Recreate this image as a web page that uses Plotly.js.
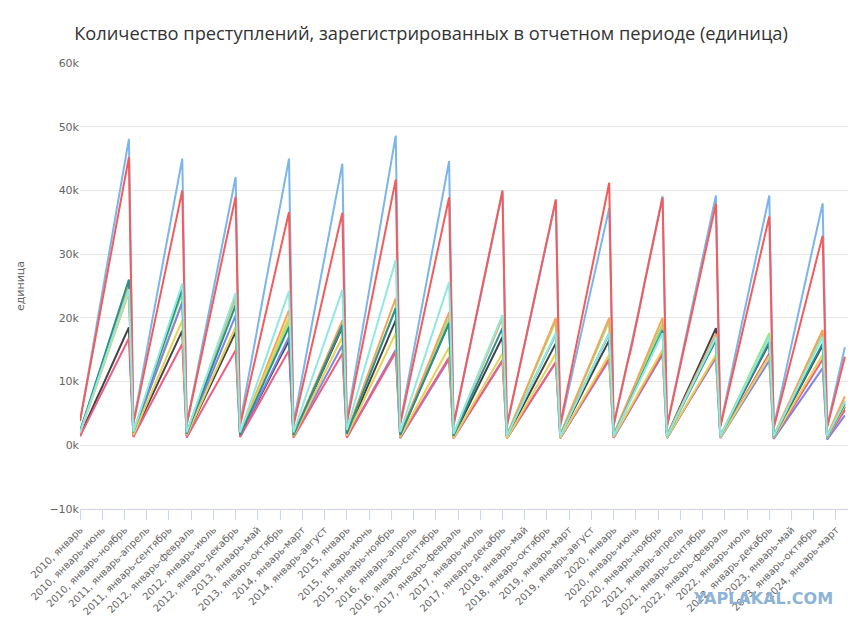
<!DOCTYPE html>
<html>
<head>
<meta charset="utf-8">
<script src="https://cdn.plot.ly/plotly-3.0.1.min.js"></script>
<style>
  html, body { margin: 0; padding: 0; background: #fff; }
  #plot-container { width: 862px; height: 628px; }
</style>
</head>
<body>
<div id="plot-container"></div>
<script>
// месяцы и годы для подписей периода (нарастающим итогом с начала года)
var months = ['январь', 'февраль', 'март', 'апрель', 'май', 'июнь', 'июль', 'август', 'сентябрь', 'октябрь', 'ноябрь', 'декабрь'];
var years = [2010, 2011, 2012, 2013, 2014, 2015, 2016, 2017, 2018, 2019, 2020, 2021, 2022, 2023, 2024];

// значения в тысячах, по одной строке на год
var s1 = [
  3.8, 7.6, 11.7, 15.8, 19.9, 24.0, 28.1, 32.1, 36.1, 40.1, 44.0, 48.1,
  3.5, 7.1, 11.0, 14.8, 18.7, 22.5, 26.3, 30.0, 33.8, 37.6, 41.3, 45.0,
  3.3, 6.8, 10.4, 14.0, 17.5, 21.1, 24.6, 28.1, 31.6, 35.1, 38.6, 42.1,
  3.5, 7.2, 11.1, 14.9, 18.8, 22.6, 26.4, 30.1, 33.8, 37.5, 41.2, 45.0,
  3.4, 7.0, 10.8, 14.6, 18.4, 22.1, 25.8, 29.5, 33.1, 36.8, 40.5, 44.2,
  3.8, 7.8, 12.1, 16.3, 20.4, 24.4, 28.4, 32.4, 36.4, 40.5, 44.5, 48.6,
  3.5, 7.2, 11.0, 14.8, 18.6, 22.3, 26.0, 29.7, 33.4, 37.1, 40.8, 44.6,
  3.1, 6.4, 9.8, 13.2, 16.6, 19.9, 23.2, 26.5, 29.8, 33.1, 36.4, 39.8,
  3.0, 6.2, 9.5, 12.8, 16.0, 19.2, 22.4, 25.6, 28.8, 32.0, 35.2, 38.4,
  2.9, 6.0, 9.2, 12.4, 15.5, 18.6, 21.7, 24.8, 27.9, 31.0, 34.1, 37.2,
  3.1, 6.3, 9.6, 12.7, 15.6, 18.8, 22.3, 25.8, 29.2, 32.6, 35.9, 39.1,
  3.0, 6.2, 9.6, 13.0, 16.3, 19.6, 22.9, 26.2, 29.5, 32.8, 36.0, 39.2,
  3.1, 6.3, 9.7, 13.1, 16.4, 19.7, 23.0, 26.2, 29.4, 32.7, 36.0, 39.2,
  2.9, 6.0, 9.3, 12.6, 15.8, 19.0, 22.2, 25.4, 28.6, 31.8, 34.9, 38.0,
  3.0, 6.1, 9.3, 12.4, 15.4
];
var s2 = [
  1.5, 3.1, 4.6, 6.2, 7.7, 9.2, 10.8, 12.3, 13.9, 15.4, 17.0, 18.5,
  1.5, 3.0, 4.5, 6.0, 7.5, 9.0, 10.5, 12.0, 13.5, 15.0, 16.5, 18.0,
  1.5, 3.0, 4.4, 5.9, 7.4, 8.9, 10.4, 11.9, 13.4, 14.8, 16.3, 17.8,
  1.4, 2.8, 4.1, 5.5, 6.9, 8.3, 9.6, 11.0, 12.4, 13.8, 15.1, 16.5,
  1.5, 3.1, 4.6, 6.2, 7.7, 9.2, 10.8, 12.3, 13.9, 15.4, 17.0, 18.5,
  1.6, 3.3, 4.9, 6.5, 8.2, 9.8, 11.4, 13.1, 14.7, 16.3, 18.0, 19.6,
  1.6, 3.2, 4.8, 6.4, 8.0, 9.6, 11.2, 12.8, 14.4, 16.0, 17.6, 19.2,
  1.4, 2.8, 4.3, 5.7, 7.1, 8.5, 9.9, 11.3, 12.8, 14.2, 15.6, 17.0,
  1.3, 2.7, 4.0, 5.3, 6.7, 8.0, 9.3, 10.7, 12.0, 13.3, 14.7, 16.0,
  1.4, 2.8, 4.1, 5.5, 6.9, 8.3, 9.6, 11.0, 12.4, 13.8, 15.1, 16.5,
  1.5, 3.1, 4.7, 6.2, 7.8, 9.4, 11.0, 12.6, 14.2, 15.7, 17.3, 18.9,
  1.5, 3.1, 4.6, 6.1, 7.7, 9.2, 10.7, 12.3, 13.8, 15.3, 16.9, 18.4,
  1.3, 2.7, 4.0, 5.3, 6.7, 8.0, 9.3, 10.7, 12.0, 13.3, 14.7, 16.0,
  1.3, 2.6, 3.9, 5.2, 6.5, 7.9, 9.2, 10.5, 11.8, 13.1, 14.4, 15.7,
  1.2, 2.4, 3.6, 4.8, 6.0
];
var s3 = [
  2.1, 4.3, 6.4, 8.5, 10.6, 12.8, 14.9, 17.0, 19.1, 21.3, 23.4, 25.5,
  1.9, 3.9, 6.0, 8.0, 10.0, 12.1, 14.1, 16.1, 18.1, 20.1, 22.0, 24.0,
  1.9, 3.8, 5.8, 7.7, 9.6, 11.5, 13.4, 15.3, 17.3, 19.2, 21.1, 23.0,
  1.6, 3.3, 4.9, 6.5, 8.1, 9.8, 11.4, 13.0, 14.6, 16.3, 17.9, 19.5,
  1.6, 3.2, 4.7, 6.3, 7.9, 9.5, 11.0, 12.6, 14.2, 15.8, 17.3, 18.9,
  1.8, 3.6, 5.4, 7.2, 9.0, 10.9, 12.7, 14.5, 16.3, 18.1, 19.9, 21.7,
  1.7, 3.3, 5.0, 6.7, 8.3, 10.0, 11.7, 13.3, 15.0, 16.7, 18.3, 20.0,
  1.7, 3.4, 5.1, 6.8, 8.5, 10.2, 11.9, 13.6, 15.3, 17.0, 18.7, 20.4,
  1.6, 3.3, 4.9, 6.5, 8.1, 9.8, 11.4, 13.0, 14.6, 16.3, 17.9, 19.5,
  1.6, 3.2, 4.9, 6.5, 8.2, 9.8, 11.4, 13.0, 14.6, 16.2, 17.9, 19.5,
  1.6, 3.2, 4.8, 6.3, 7.8, 9.4, 11.0, 12.6, 14.2, 15.8, 17.4, 19.0,
  1.4, 2.9, 4.3, 5.8, 7.2, 8.7, 10.1, 11.5, 13.0, 14.4, 15.9, 17.3,
  1.5, 2.9, 4.4, 5.9, 7.3, 8.8, 10.3, 11.7, 13.2, 14.7, 16.1, 17.6,
  1.4, 2.9, 4.4, 5.9, 7.3, 8.8, 10.3, 11.8, 13.2, 14.7, 16.1, 17.6,
  1.4, 2.8, 4.2, 5.6, 7.0
];
var s4 = [
  2.1, 4.2, 6.3, 8.3, 10.4, 12.5, 14.6, 16.7, 18.8, 20.8, 22.9, 25.0,
  1.9, 3.8, 5.6, 7.5, 9.4, 11.3, 13.1, 15.0, 16.9, 18.8, 20.6, 22.5,
  2.0, 3.9, 5.9, 7.8, 9.8, 11.8, 13.7, 15.7, 17.6, 19.6, 21.5, 23.5,
  1.8, 3.5, 5.3, 7.1, 8.8, 10.6, 12.4, 14.1, 15.9, 17.7, 19.4, 21.2,
  1.6, 3.3, 4.9, 6.5, 8.2, 9.8, 11.4, 13.1, 14.7, 16.3, 18.0, 19.6,
  1.9, 3.9, 5.8, 7.7, 9.6, 11.6, 13.5, 15.4, 17.3, 19.3, 21.2, 23.1,
  1.7, 3.5, 5.2, 7.0, 8.7, 10.5, 12.2, 13.9, 15.7, 17.4, 19.2, 20.9,
  1.7, 3.3, 5.0, 6.7, 8.3, 10.0, 11.7, 13.3, 15.0, 16.7, 18.3, 20.0,
  1.6, 3.3, 5.0, 6.7, 8.4, 10.0, 11.7, 13.4, 15.0, 16.7, 18.3, 20.0,
  1.7, 3.4, 5.0, 6.7, 8.3, 10.0, 11.6, 13.3, 15.0, 16.7, 18.4, 20.0,
  1.7, 3.3, 5.0, 6.6, 8.2, 9.9, 11.6, 13.3, 15.0, 16.7, 18.4, 20.0,
  1.5, 2.9, 4.4, 5.8, 7.3, 8.8, 10.2, 11.7, 13.1, 14.6, 16.0, 17.5,
  1.4, 2.8, 4.3, 5.7, 7.1, 8.5, 9.9, 11.3, 12.8, 14.2, 15.6, 17.0,
  1.5, 3.0, 4.5, 6.0, 7.5, 9.1, 10.6, 12.1, 13.6, 15.1, 16.6, 18.1,
  1.5, 3.1, 4.6, 6.2, 7.7
];
var s5 = [
  2.0, 4.0, 6.1, 8.1, 10.1, 12.1, 14.1, 16.1, 18.2, 20.2, 22.2, 24.2,
  1.9, 3.7, 5.6, 7.5, 9.3, 11.2, 13.1, 14.9, 16.8, 18.7, 20.5, 22.4,
  1.7, 3.4, 5.1, 6.8, 8.5, 10.2, 11.9, 13.6, 15.3, 17.0, 18.7, 20.4,
  1.4, 2.8, 4.3, 5.7, 7.1, 8.5, 9.9, 11.3, 12.8, 14.2, 15.6, 17.0,
  1.3, 2.6, 3.9, 5.2, 6.5, 7.9, 9.2, 10.5, 11.8, 13.1, 14.4, 15.7,
  1.3, 2.5, 3.8, 5.0, 6.3, 7.5, 8.8, 10.0, 11.3, 12.5, 13.8, 15.0,
  1.1, 2.3, 3.4, 4.5, 5.6, 6.8, 7.9, 9.0, 10.1, 11.3, 12.4, 13.5,
  1.1, 2.2, 3.4, 4.5, 5.6, 6.7, 7.8, 8.9, 10.1, 11.2, 12.3, 13.4,
  1.1, 2.2, 3.3, 4.4, 5.5, 6.6, 7.6, 8.7, 9.8, 10.9, 12.0, 13.1,
  1.1, 2.2, 3.3, 4.5, 5.6, 6.7, 7.8, 8.9, 10.0, 11.2, 12.3, 13.4,
  1.2, 2.4, 3.6, 4.7, 5.9, 7.1, 8.3, 9.5, 10.7, 11.8, 13.0, 14.2,
  1.1, 2.3, 3.4, 4.6, 5.7, 6.9, 8.0, 9.1, 10.3, 11.4, 12.6, 13.7,
  1.1, 2.2, 3.3, 4.4, 5.5, 6.7, 7.8, 8.9, 10.0, 11.1, 12.2, 13.3,
  1.0, 2.0, 3.0, 4.0, 5.0, 6.1, 7.1, 8.1, 9.1, 10.1, 11.1, 12.1,
  0.9, 1.9, 2.8, 3.8, 4.7
];
var s6 = [
  1.4, 2.8, 4.2, 5.6, 7.0, 8.4, 9.8, 11.2, 12.6, 14.0, 15.4, 16.8,
  1.3, 2.7, 4.0, 5.3, 6.6, 8.0, 9.3, 10.6, 11.9, 13.3, 14.6, 15.9,
  1.2, 2.5, 3.7, 5.0, 6.2, 7.5, 8.7, 9.9, 11.2, 12.4, 13.7, 14.9,
  1.3, 2.5, 3.8, 5.0, 6.2, 7.5, 8.7, 10.0, 11.2, 12.4, 13.7, 14.9,
  1.2, 2.4, 3.6, 4.8, 6.0, 7.2, 8.4, 9.6, 10.8, 12.0, 13.2, 14.4,
  1.2, 2.4, 3.7, 4.9, 6.1, 7.3, 8.5, 9.7, 11.0, 12.2, 13.4, 14.6,
  1.2, 2.3, 3.5, 4.6, 5.8, 6.9, 8.1, 9.2, 10.4, 11.5, 12.7, 13.8,
  1.1, 2.2, 3.3, 4.4, 5.5, 6.6, 7.7, 8.8, 9.9, 11.0, 12.1, 13.2,
  1.1, 2.2, 3.3, 4.3, 5.4, 6.5, 7.6, 8.7, 9.8, 10.8, 11.9, 13.0,
  1.1, 2.3, 3.4, 4.5, 5.7, 6.8, 7.9, 9.1, 10.2, 11.3, 12.5, 13.6,
  1.2, 2.4, 3.6, 4.8, 6.0, 7.3, 8.5, 9.7, 10.9, 12.1, 13.3, 14.5,
  1.2, 2.3, 3.5, 4.7, 5.8, 7.0, 8.2, 9.3, 10.5, 11.7, 12.8, 14.0,
  1.2, 2.4, 3.6, 4.8, 6.0, 7.2, 8.4, 9.6, 10.8, 12.0, 13.2, 14.4,
  1.1, 2.3, 3.4, 4.5, 5.6, 6.8, 7.9, 9.0, 10.1, 11.3, 12.4, 13.5,
  1.1, 2.2, 3.3, 4.4, 5.5
];
var s7 = [
  1.9, 3.9, 5.9, 7.9, 9.9, 11.9, 13.9, 15.9, 18.0, 20.0, 22.0, 24.0,
  1.6, 3.3, 4.9, 6.5, 8.2, 9.8, 11.4, 13.1, 14.7, 16.3, 18.0, 19.6,
  1.6, 3.1, 4.7, 6.2, 7.8, 9.3, 10.9, 12.4, 14.0, 15.5, 17.1, 18.6,
  1.7, 3.4, 5.0, 6.7, 8.4, 10.1, 11.7, 13.4, 15.1, 16.8, 18.4, 20.1,
  1.4, 2.8, 4.3, 5.7, 7.1, 8.5, 9.9, 11.3, 12.8, 14.2, 15.6, 17.0,
  1.5, 2.9, 4.4, 5.9, 7.3, 8.8, 10.3, 11.7, 13.2, 14.7, 16.1, 17.6,
  1.3, 2.6, 3.9, 5.1, 6.4, 7.7, 9.0, 10.3, 11.6, 12.8, 14.1, 15.4,
  1.2, 2.4, 3.6, 4.8, 6.0, 7.2, 8.4, 9.6, 10.8, 12.0, 13.2, 14.4,
  1.1, 2.3, 3.5, 4.7, 5.9, 7.1, 8.3, 9.5, 10.8, 12.0, 13.2, 14.4,
  1.2, 2.4, 3.6, 4.7, 5.9, 7.1, 8.3, 9.5, 10.7, 11.8, 13.0, 14.2,
  1.3, 2.5, 3.8, 5.0, 6.3, 7.5, 8.8, 10.0, 11.3, 12.5, 13.8, 15.0,
  1.2, 2.4, 3.5, 4.7, 5.9, 7.1, 8.3, 9.5, 10.7, 11.8, 13.0, 14.2,
  1.2, 2.3, 3.5, 4.7, 5.8, 7.0, 8.2, 9.3, 10.5, 11.7, 12.8, 14.0,
  1.2, 2.4, 3.6, 4.8, 5.9, 7.1, 8.3, 9.5, 10.6, 11.8, 13.0, 14.2,
  1.2, 2.5, 3.7, 5.0, 6.2
];
var s8 = [
  2.2, 4.3, 6.5, 8.7, 10.8, 13.0, 15.2, 17.3, 19.5, 21.7, 23.8, 26.0,
  2.0, 4.1, 6.1, 8.2, 10.2, 12.3, 14.3, 16.3, 18.4, 20.4, 22.5, 24.5,
  1.8, 3.7, 5.5, 7.3, 9.2, 11.0, 12.8, 14.7, 16.5, 18.3, 20.2, 22.0,
  1.6, 3.1, 4.7, 6.2, 7.8, 9.3, 10.9, 12.4, 14.0, 15.5, 17.1, 18.6,
  1.6, 3.1, 4.7, 6.3, 7.9, 9.4, 11.0, 12.6, 14.2, 15.7, 17.3, 18.9,
  1.8, 3.6, 5.4, 7.2, 9.0, 10.8, 12.5, 14.3, 16.1, 17.9, 19.7, 21.5,
  1.6, 3.2, 4.8, 6.4, 8.0, 9.6, 11.2, 12.8, 14.4, 16.0, 17.6, 19.2,
  1.5, 3.1, 4.6, 6.1, 7.7, 9.2, 10.7, 12.3, 13.8, 15.3, 16.9, 18.4,
  1.5, 2.9, 4.4, 5.8, 7.3, 8.8, 10.2, 11.7, 13.1, 14.6, 16.0, 17.5,
  1.5, 2.9, 4.4, 5.9, 7.3, 8.8, 10.3, 11.7, 13.2, 14.7, 16.1, 17.6,
  1.5, 3.0, 4.6, 6.0, 7.4, 8.9, 10.5, 12.0, 13.5, 15.0, 16.5, 18.0,
  1.4, 2.8, 4.1, 5.5, 6.9, 8.3, 9.6, 11.0, 12.4, 13.8, 15.1, 16.5,
  1.4, 2.7, 4.1, 5.4, 6.8, 8.1, 9.5, 10.8, 12.2, 13.5, 14.9, 16.2,
  1.3, 2.7, 4.0, 5.3, 6.7, 8.0, 9.3, 10.7, 12.0, 13.3, 14.7, 16.0,
  1.3, 2.6, 3.9, 5.2, 6.5
];
var s9 = [
  3.8, 7.5, 11.2, 15.0, 18.8, 22.6, 26.4, 30.1, 33.9, 37.7, 41.5, 45.2,
  3.4, 6.8, 10.2, 13.5, 16.8, 20.1, 23.4, 26.7, 30.0, 33.3, 36.7, 40.0,
  3.3, 6.6, 9.9, 13.1, 16.3, 19.5, 22.8, 26.0, 29.2, 32.5, 35.8, 39.0,
  3.1, 6.2, 9.3, 12.3, 15.3, 18.3, 21.4, 24.4, 27.4, 30.5, 33.6, 36.6,
  3.1, 6.1, 9.2, 12.2, 15.2, 18.3, 21.3, 24.3, 27.4, 30.4, 33.5, 36.5,
  3.5, 7.0, 10.5, 14.0, 17.4, 20.9, 24.3, 27.8, 31.3, 34.8, 38.3, 41.7,
  3.3, 6.5, 9.8, 13.0, 16.2, 19.5, 22.7, 25.9, 29.2, 32.4, 35.7, 38.9,
  3.3, 6.6, 10.0, 13.4, 16.7, 20.0, 23.3, 26.7, 30.0, 33.3, 36.7, 40.0,
  3.1, 6.3, 9.6, 12.9, 16.1, 19.3, 22.5, 25.7, 29.0, 32.2, 35.4, 38.6,
  3.3, 6.7, 10.2, 13.7, 17.1, 20.6, 24.0, 27.5, 30.9, 34.3, 37.8, 41.2,
  3.2, 6.4, 9.6, 12.6, 15.4, 18.6, 22.1, 25.6, 29.0, 32.4, 35.7, 38.9,
  3.0, 6.2, 9.4, 12.6, 15.8, 19.0, 22.1, 25.3, 28.5, 31.6, 34.8, 37.9,
  2.9, 5.9, 8.9, 11.9, 14.9, 17.9, 20.9, 23.9, 26.9, 29.9, 32.9, 35.9,
  2.7, 5.4, 8.2, 10.9, 13.7, 16.4, 19.2, 21.9, 24.7, 27.4, 30.2, 32.9,
  2.8, 5.6, 8.4, 11.2, 13.9
];
var s10 = [
  2.0, 4.1, 6.1, 8.2, 10.2, 12.3, 14.3, 16.3, 18.4, 20.4, 22.5, 24.5,
  2.1, 4.2, 6.4, 8.5, 10.6, 12.7, 14.8, 16.9, 19.1, 21.2, 23.3, 25.4,
  2.0, 4.0, 6.0, 8.0, 10.0, 12.0, 13.9, 15.9, 17.9, 19.9, 21.9, 23.9,
  2.0, 4.0, 6.1, 8.1, 10.1, 12.1, 14.1, 16.1, 18.2, 20.2, 22.2, 24.2,
  2.0, 4.1, 6.1, 8.1, 10.2, 12.2, 14.2, 16.3, 18.3, 20.3, 22.4, 24.4,
  2.4, 4.9, 7.3, 9.7, 12.1, 14.6, 17.0, 19.4, 21.8, 24.3, 26.7, 29.1,
  2.1, 4.3, 6.4, 8.5, 10.7, 12.8, 14.9, 17.1, 19.2, 21.3, 23.5, 25.6,
  1.8, 3.5, 5.2, 6.9, 8.6, 10.3, 12.0, 13.7, 15.4, 17.0, 18.7, 20.4,
  1.5, 2.9, 4.4, 5.9, 7.3, 8.8, 10.3, 11.7, 13.2, 14.7, 16.1, 17.6,
  1.4, 2.9, 4.4, 5.8, 7.3, 8.8, 10.3, 11.8, 13.2, 14.7, 16.2, 17.6,
  1.5, 2.9, 4.4, 5.8, 7.2, 8.7, 10.2, 11.7, 13.2, 14.7, 16.2, 17.6,
  1.4, 2.8, 4.3, 5.7, 7.1, 8.5, 9.9, 11.3, 12.8, 14.2, 15.6, 17.0,
  1.4, 2.9, 4.3, 5.7, 7.1, 8.5, 9.9, 11.3, 12.7, 14.2, 15.6, 17.0,
  1.4, 2.8, 4.2, 5.7, 7.1, 8.5, 9.9, 11.3, 12.8, 14.2, 15.6, 17.0,
  1.4, 2.7, 4.1, 5.5, 6.8
];

// цвета рядов (порядок отрисовки как в оригинале)
var seriesList = [s1, s2, s3, s4, s5, s6, s7, s8, s9, s10];
var seriesColors = ['#7cb5ec', '#434348', '#90ed7d', '#f7a35c', '#8085e9', '#f15c80', '#e4d354', '#2b908f', '#f45b5b', '#91e8e1'];

// подписи периодов: "2010, январь", "2010, январь-февраль", ...
var categories = [];
years.forEach(function (y) {
  months.forEach(function (m, i) {
    categories.push(i == 0 ? y + ', январь' : y + ', январь-' + m);
  });
});
categories = categories.slice(0, s1.length);

// подпись под каждым пятым периодом
var tickCats = categories.filter(function (c, i) { return i % 5 == 0; });

var data = seriesList.map(function (s, k) {
  return {
    x: categories,
    y: s,
    type: 'scatter',
    mode: 'lines',
    name: 'ряд ' + (k + 1),
    line: {color: seriesColors[k], width: 2},
    hovertemplate: '%{x}: %{y:.1f}k<extra></extra>'
  };
});

var layout = {
  width: 862,
  height: 628,
  margin: {l: 80, r: 14, t: 63, b: 119},
  paper_bgcolor: '#ffffff',
  plot_bgcolor: '#ffffff',
  showlegend: false,
  font: {family: 'DejaVu Sans, Verdana, sans-serif', color: '#666666', size: 11},
  title: {
    text: 'Количество преступлений, зарегистрированных в отчетном периоде (единица)',
    font: {family: 'Open Sans, sans-serif', size: 18.3, color: '#333333'},
    x: 0.5, xref: 'container', xanchor: 'center',
    y: 0.947, yref: 'container', yanchor: 'middle'
  },
  xaxis: {
    type: 'category',
    range: [0, 172.7],
    tickmode: 'array',
    tickvals: tickCats,
    ticktext: tickCats,
    tickangle: -45,
    tickfont: {size: 10, color: '#666666'},
    ticks: 'outside',
    ticklen: 10,
    tickcolor: '#ccd6eb',
    showline: true,
    linecolor: '#ccd6eb',
    linewidth: 1,
    showgrid: false,
    zeroline: false
  },
  yaxis: {
    range: [-10, 60],
    dtick: 10,
    tick0: 0,
    ticksuffix: 'k',
    tickfont: {size: 11, color: '#666666'},
    gridcolor: '#e6e6e6',
    zeroline: false,
    showline: false,
    title: {text: 'единица', font: {size: 11, color: '#666666'}, standoff: 22}
  },
  annotations: [{
    text: '<b>YAPLAKAL.COM</b>',
    xref: 'paper', yref: 'paper',
    x: 0.983, y: -0.2, xanchor: 'right', yanchor: 'middle',
    showarrow: false,
    font: {family: 'DejaVu Sans, sans-serif', size: 16, color: '#8db3d6'}
  }]
};

Plotly.newPlot('plot-container', data, layout, {displayModeBar: false});
</script>
</body>
</html>
